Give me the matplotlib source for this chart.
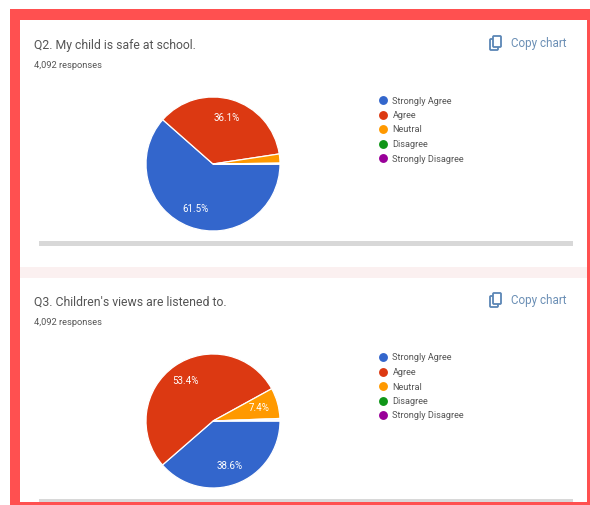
import matplotlib
matplotlib.use("Agg")
import matplotlib.pyplot as plt
from matplotlib.patches import Rectangle, FancyBboxPatch
from matplotlib.lines import Line2D

W, H = 590, 505
plt.rcParams['font.family'] = ['Roboto', 'DejaVu Sans']

categories = ["Strongly Agree", "Agree", "Neutral", "Disagree", "Strongly Disagree"]
colors = ["#3366cc", "#dc3912", "#ff9900", "#109618", "#990099"]
q2_values = [61.5, 36.1, 2.2, 0.1, 0.1]
q3_values = [38.6, 53.4, 7.4, 0.3, 0.3]
q2_title = "Q2. My child is safe at school."
q3_title = "Q3. Children's views are listened to."
responses = "4,092 responses"
copy_label = "Copy chart"

fig = plt.figure(figsize=(W / 100, H / 100), dpi=100, facecolor="white")
bg = fig.add_axes([0, 0, 1, 1])
bg.set_xlim(0, W)
bg.set_ylim(H, 0)
bg.axis("off")

# Red frame and white sheet
bg.add_patch(Rectangle((10, 9), W - 10, H - 9, fc="#ff5050", ec="none"))
bg.add_patch(Rectangle((20, 20), 567, 482, fc="white", ec="none"))
bg.add_patch(Rectangle((20, 267), 567, 11, fc="#fbf0f0", ec="none"))


def card(top, values, title, scroll_y, scroll_h):
    bg.text(34, top + 25, title, fontsize=8.8, color="#555555", va="center", ha="left")
    bg.text(34, top + 45.5, responses, fontsize=6.7, color="#555555", va="center", ha="left")
    # Copy icon
    bg.add_patch(FancyBboxPatch((490, top + 19), 8, 11, boxstyle="round,pad=0,rounding_size=1",
                                fc="white", ec="#5b86b5", lw=1.3, zorder=3))
    bg.add_patch(FancyBboxPatch((493, top + 16), 8, 11, boxstyle="round,pad=0,rounding_size=1",
                                fc="white", ec="#5b86b5", lw=1.3, zorder=4))
    bg.text(511, top + 23.5, copy_label, fontsize=8.4, color="#6b8fb5", va="center", ha="left")
    # Scroll bar
    bg.add_patch(Rectangle((39, scroll_y), 534, scroll_h, fc="#d8d8d8", ec="none"))

    # Pie: centre (213, top+144), radius 67 px
    cx, cy, r = 213, top + 144, 67
    ax = fig.add_axes([(cx - r) / W, 1 - (cy + r) / H, 2 * r / W, 2 * r / H])
    ax.pie(values, colors=colors, startangle=0, counterclock=False, radius=1,
           wedgeprops={"edgecolor": "white", "linewidth": 0.9},
           autopct=lambda p: f"{p:.1f}%" if p > 5 else "",
           pctdistance=0.72,
           textprops={"color": "white", "fontsize": 7.0})
    ax.set_xlim(-1, 1)
    ax.set_ylim(-1, 1)

    # Legend
    handles = [Line2D([], [], ls="none", marker="o", ms=6.4, mfc=c, mec="none") for c in colors]
    bg.legend(handles, categories, loc="upper left",
              bbox_to_anchor=(376, top + 76.5), bbox_transform=bg.transData,
              frameon=False, fontsize=6.6, labelspacing=0.6, handletextpad=0.2,
              handlelength=1.6, borderpad=0, borderaxespad=0, labelcolor="#555555")
    return bg.get_legend()


leg1 = card(20, q2_values, q2_title, 241, 5)
bg.add_artist(leg1)
card(277, q3_values, q3_title, 499, 3)

fig.savefig("out.png", dpi=100)
